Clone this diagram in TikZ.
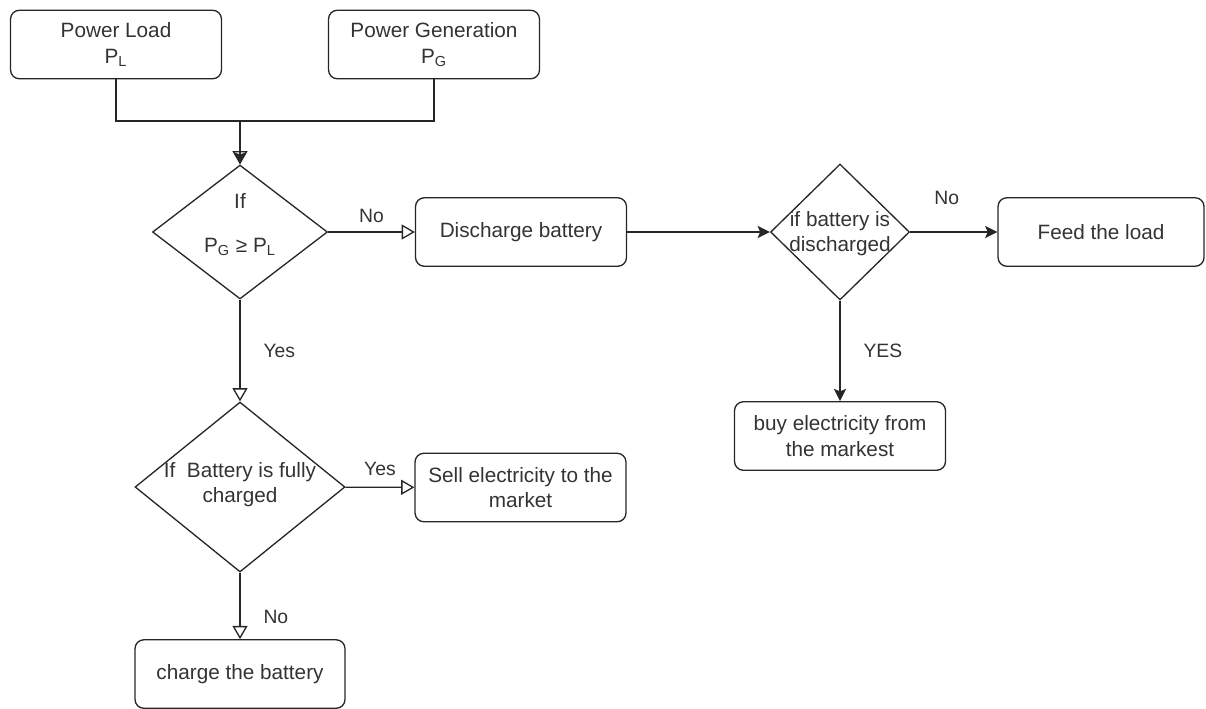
\documentclass[tikz,border=0pt]{standalone}
\usepackage{fontspec}
\setmainfont{Liberation Sans}
\usetikzlibrary{arrows.meta,shapes.geometric,positioning}
\definecolor{ink}{HTML}{333333}
\definecolor{rule}{HTML}{262626}
\tikzset{
	txt/.style={font=\fontsize{11.8}{14.5}\selectfont, text=ink, align=center},
	procbox/.style={rectangle, rounded corners=5pt, draw=rule, line width=0.75pt, txt, inner sep=2pt, minimum width=4.22cm, minimum height=1.37cm},
	decide/.style={diamond, draw=rule, line width=0.75pt, inner sep=0pt},
	edgelbl/.style={font=\fontsize{11}{13}\selectfont, text=ink, inner sep=0pt},
	openedge/.style={-{Triangle[open,width=8.5pt,length=7.5pt]}, draw=rule, line width=0.75pt},
	diredge/.style={-{Stealth[width=7pt,length=7pt,inset=1.5pt]}, draw=rule, line width=0.75pt}
}
\begin{document}
\begin{tikzpicture}[x=0.02cm,y=-0.02cm]
	\useasboundingbox (0,0) rectangle (1206,708);
	%%%% inputs
	\node[procbox] (load) at (116,44.5) {Power Load\\P\textsubscript{L}};
	\node[procbox] (gen) at (434,44.5) {Power Generation\\P\textsubscript{G}};
	\coordinate (join) at (240,121);
	
	%%%% left branch
	\node[decide, minimum width=3.5cm, minimum height=2.68cm,
		label={[txt,yshift=0.14cm]center:{If\\[10.5pt]P\textsubscript{G} ≥ P\textsubscript{L}}}] (chk) at (240,232) {};
	\node[decide, minimum width=4.2cm, minimum height=3.4cm,
		label={[txt,yshift=0.05cm]center:{If~ Battery is fully\\charged}}] (full) at (240,487) {};
	\node[procbox] (sell) at (520.5,487.5) {Sell electricity to the\\market};
	\node[procbox, minimum width=4.2cm] (chg) at (240,674) {charge the battery};
	
	%%%% right branch
	\node[procbox] (dis) at (521,232) {Discharge battery};
	\node[decide, minimum width=2.78cm, minimum height=2.72cm,
		label={[txt,yshift=-0.03cm]center:{if battery is\\discharged}}] (empty) at (840,232) {};
	\node[procbox, minimum width=4.12cm] (feed) at (1101,232) {Feed the load};
	\node[procbox] (buy) at (840,436) {buy electricity from\\the markest};
	
	\draw[diredge] (gen) |- (join) -- (chk);
	\draw[openedge] (load) |- (join) -- (chk);
	
	\draw[openedge] (chk) -- node[edgelbl,above=5pt] (no1) {No} (dis);
	\draw[openedge] (chk) -- node[edgelbl,right=13pt] (yes1) {Yes} (full);
	\draw[openedge] (full) -- node[edgelbl,above=6pt] (yes2) {Yes} (sell);
	\draw[openedge] (full) -- node[edgelbl,right=13pt,pos=.66] (no2) {No} (chg);
	
	\draw[diredge] (dis) -- (empty);
	\draw[diredge] (empty) -- node[edgelbl,above=15pt,pos=.42] (no3) {No} (feed);
	\draw[diredge] (empty) -- node[edgelbl,right=13pt] (yes3) {YES} (buy);
\end{tikzpicture}
\end{document}
